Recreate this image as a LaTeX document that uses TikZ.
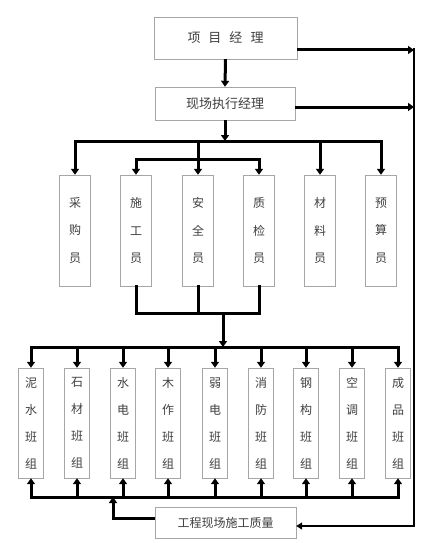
\documentclass[tikz,border=0pt]{standalone}
\usepackage{fontspec}
\newfontfamily\cjk{Noto Sans CJK SC}
\usetikzlibrary{arrows.meta}

\tikzset{
  box/.style={draw=black!35, thin, fill=white, inner sep=0pt, text=black!75,
    font=\cjk\fontsize{13}{15}\selectfont},
  staffbox/.style={box, minimum width=31pt, minimum height=111pt, align=center,
    font=\cjk\fontsize{12}{27.5}\selectfont},
  teambox/.style={box, minimum width=25pt, minimum height=110pt, align=center,
    font=\cjk\fontsize{12}{27}\selectfont},
  link/.style={line width=3pt, line cap=rect},
  arr/.style={line width=3pt, -{Triangle[length=6pt,width=8pt]}},
  backline/.style={line width=1.8pt, -{Triangle[length=6pt,width=7pt]}},
}

\begin{document}
\begin{tikzpicture}[x=1pt,y=-1pt]
    \useasboundingbox[fill=white] (0,0) rectangle (430,543);

    % Draw the managers
    \node[box, minimum width=143pt, minimum height=42pt] (pm) at (225.5,38)
        {项\hspace{8pt}目\hspace{8pt}经\hspace{8pt}理};
    \node[box, minimum width=140pt, minimum height=33pt] (em) at (225,103.5) {现场执行经理};

    % Draw the staff
    \node[staffbox] (cg) at (75,230.5) {采\\购\\员};
    \node[staffbox] (sg) at (136,230.5) {施\\工\\员};
    \node[staffbox] (aq) at (198,230.5) {安\\全\\员};
    \node[staffbox] (zj) at (259,230.5) {质\\检\\员};
    \node[staffbox] (cl) at (320,230.5) {材\\料\\员};
    \node[staffbox] (ys) at (381,230.5) {预\\算\\员};

    % Draw the teams
    \node[teambox] (ns) at (31,423) {泥\\水\\班\\组};
    \node[teambox] (sc) at (77,423) {石\\材\\班\\组};
    \node[teambox] (sd) at (123,423) {水\\电\\班\\组};
    \node[teambox] (mz) at (168,423) {木\\作\\班\\组};
    \node[teambox] (rd) at (215,423) {弱\\电\\班\\组};
    \node[teambox] (xf) at (261,423) {消\\防\\班\\组};
    \node[teambox] (gg) at (306,423) {钢\\构\\班\\组};
    \node[teambox] (kt) at (352,423) {空\\调\\班\\组};
    \node[teambox] (cp) at (398,423) {成\\品\\班\\组};

    % Site quality box
    \node[box, minimum width=141pt, minimum height=31pt, font=\cjk\fontsize{12}{14}\selectfont]
        (gz) at (225.5,522.5) {工程现场施工质量};

    % Managers down to staff
    \coordinate (b1) at (0,141);
    \coordinate (b2) at (0,159);
    \draw[arr] (pm.south) -- (em.north);
    \draw[arr] (em.south) -- (em.south |- b1);
    \draw[link] (cg.north |- b1) -- (ys.north |- b1);
    \foreach \n in {cg,aq,cl,ys} \draw[arr] (\n.north |- b1) -- (\n.north);
    \draw[link] (sg.north |- b2) -- (zj.north |- b2);
    \foreach \n in {sg,zj} \draw[arr] (\n.north |- b2) -- (\n.north);

    % Staff down to teams
    \coordinate (b3) at (223,313);
    \coordinate (b4) at (223,347);
    \foreach \n in {sg,aq,zj} \draw[link] (\n.south) -- (\n.south |- b3);
    \draw[link] (sg.south |- b3) -- (zj.south |- b3);
    \draw[arr] (b3) -- (b4);
    \draw[link] (ns.north |- b4) -- (cp.north |- b4);
    \foreach \n in {ns,sc,sd,mz,rd,xf,gg,kt,cp} \draw[arr] (\n.north |- b4) -- (\n.north);

    % Quality back up to teams
    \coordinate (b5) at (0,497);
    \coordinate (k) at (113,518);
    \draw[link] (ns.south |- b5) -- (cp.south |- b5);
    \foreach \n in {ns,sc,sd,mz,rd,xf,gg,kt,cp} \draw[arr] (\n.south |- b5) -- (\n.south);
    \draw[arr] (k -| gz.west) -- (k) -- (k |- b5);

    % Managers over to the quality box
    \coordinate (r0) at (414,48);
    \coordinate (r1) at (414,50);
    \coordinate (r2) at (414,107);
    \coordinate (r3) at (414,526);
    \draw[arr] (r1 -| pm.east) -- (r1);
    \draw[arr] (r2 -| em.east) -- (r2);
    \draw[backline] (r0) -- (r3) -- (r3 -| gz.east);
\end{tikzpicture}
\end{document}
